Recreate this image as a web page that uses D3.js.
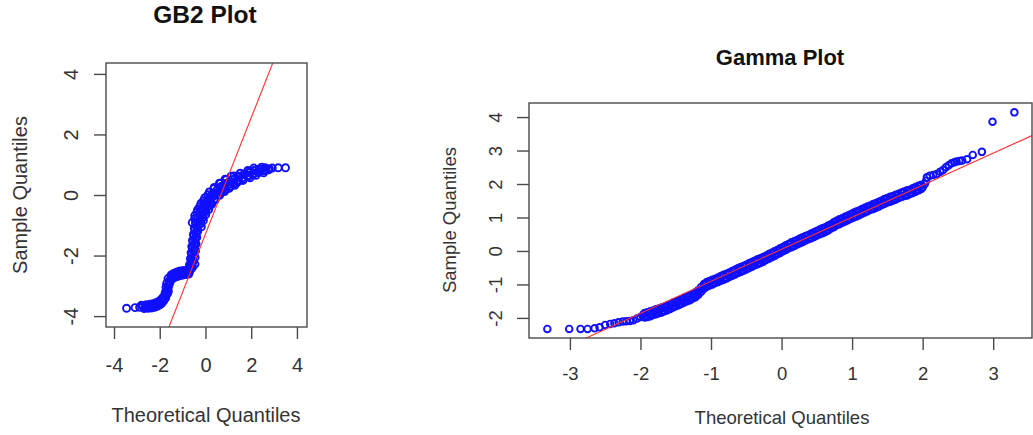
<!DOCTYPE html>
<html><head><meta charset="utf-8">
<script src="https://cdn.jsdelivr.net/npm/d3@7"></script>
<style>html,body{margin:0;padding:0;background:#fff;}svg{display:block;font-family:"Liberation Sans",Arial,sans-serif;}</style>
</head><body><svg id="c" width="1033" height="435"></svg>
<script>
const gb2Title = "GB2 Plot";
const gammaTitle = "Gamma Plot";
const xAxisTitle = "Theoretical Quantiles";
const yAxisTitle = "Sample Quantiles";

const gb2XTicks = [-4, -2, 0, 2, 4];
const gb2YTicks = [-4, -2, 0, 2, 4];
const gammaXTicks = [-3, -2, -1, 0, 1, 2, 3];
const gammaYTicks = [-2, -1, 0, 1, 2, 3, 4];

const gb2XLimits = [-4.35, 4.44];
const gb2YLimits = [-4.36, 4.36];
const gammaXLimits = [-3.58, 3.55];
const gammaYLimits = [-2.6, 4.42];

// reference lines: [intercept, slope]
const gb2RefLine = [-1.29, 1.92];
const gammaRefLine = [0.05, 0.957];

const gb2Theoretical = [-3.45,-3.08,-2.88,-2.74,-2.63,-2.54,-2.46,-2.39,-2.32,-2.26,
-2.20,-2.14,-2.08,-2.02,-1.97,-1.92,-1.88,-1.84,-1.80,-1.76,
-1.73,-1.69,-1.69,-1.64,-1.65,-1.58,-1.59,-1.53,-1.48,-1.42,
-1.36,-1.30,-1.24,-1.18,-1.12,-1.06,-1.00,-0.94,-0.88,-0.82,
-0.76,-0.70,-0.66,-0.61,-0.64,-0.57,-0.61,-0.54,-0.59,-0.52,
-0.57,-0.50,-0.54,-0.46,-0.50,-0.42,-0.46,-0.38,-0.41,-0.31,
-0.33,-0.23,-0.23,-0.13,-0.12,-0.03,0.00,0.08,0.11,0.20,
0.23,0.33,0.37,0.47,0.52,0.63,0.68,0.80,0.86,0.98,
1.05,1.18,1.25,1.39,1.47,1.61,1.70,1.85,1.94,2.09,
2.18,2.33,2.42,2.57,2.66,2.80,2.92,3.18,3.50,
-2.80,-2.68,-2.58,-2.50,-2.42,-2.35,-2.29,-2.23,-2.17,-2.11,-2.05,-1.99,-1.94,-1.90,-1.86,-1.82,-1.78,-1.74,
-1.76,-1.66,-1.73,-1.62,-1.70,-1.60,-1.64,-1.55,
-1.50,-1.45,-1.39,-1.33,-1.27,-1.21,-1.15,-1.09,-1.03,-0.97,-0.91,-0.85,-0.79,-0.73,-0.68,
-0.70,-0.56,-0.66,-0.53,-0.63,-0.50,-0.60,-0.47,-0.57,-0.44,-0.53,-0.40,-0.49,-0.35,-0.44,-0.29,
-0.37,-0.22,-0.28,-0.12,-0.17,0.00,-0.05,0.12,0.08,0.25,0.22,0.39,0.37,0.55,0.53,0.71,0.70,0.88,
0.88,1.06,1.06,1.24,1.26,1.44,1.47,1.65,1.68,1.88,1.90,2.10,2.12,2.32,2.36,2.55,2.60,2.76,
-0.46,-0.45,-0.43,-0.41,-0.38,-0.34,
-0.19,-0.47,-0.10,-0.38,0.02,-0.26,0.19,-0.09,0.39,0.11,0.61,0.37,0.85,0.65,
1.07,0.91,1.36,1.24,1.64,1.52,1.95,1.85,2.21,2.11,2.54,2.46,
-0.18,-0.58,-0.09,-0.47,0.01,-0.35,0.14,-0.20,0.27,-0.03,
0.43,0.17,0.62,0.38,0.83,0.61,1.04,0.86,1.28,1.12];
const gb2Sample = [-3.74,-3.72,-3.71,-3.68,-3.72,-3.66,-3.71,-3.65,-3.70,-3.63,
-3.68,-3.59,-3.64,-3.55,-3.59,-3.49,-3.52,-3.41,-3.44,-3.33,
-3.32,-3.22,-3.14,-3.08,-2.99,-2.93,-2.84,-2.78,-2.70,-2.70,
-2.63,-2.66,-2.58,-2.63,-2.56,-2.61,-2.54,-2.60,-2.53,-2.58,
-2.51,-2.55,-2.46,-2.42,-2.32,-2.24,-2.14,-2.04,-1.94,-1.84,
-1.74,-1.64,-1.54,-1.44,-1.34,-1.24,-1.14,-1.04,-0.96,-0.88,
-0.78,-0.72,-0.62,-0.56,-0.44,-0.41,-0.29,-0.28,-0.17,-0.16,
-0.06,-0.05,0.05,0.04,0.16,0.14,0.25,0.23,0.35,0.33,
0.43,0.41,0.51,0.49,0.59,0.57,0.67,0.65,0.74,0.72,
0.80,0.78,0.85,0.83,0.88,0.86,0.89,0.90,0.90,
-3.64,-3.75,-3.62,-3.74,-3.61,-3.73,-3.59,-3.71,-3.56,-3.68,-3.52,-3.63,-3.45,-3.57,-3.38,-3.49,-3.30,-3.40,
-3.22,-3.26,-3.05,-3.18,-2.92,-3.00,-2.76,-2.88,
-2.64,-2.77,-2.59,-2.72,-2.55,-2.69,-2.52,-2.66,-2.50,-2.64,-2.49,-2.63,-2.47,-2.61,-2.40,
-2.30,-2.38,-2.10,-2.18,-1.90,-1.98,-1.70,-1.78,-1.50,-1.58,-1.30,-1.38,-1.10,-1.18,-0.92,-1.00,
-0.78,-0.86,-0.60,-0.68,-0.44,-0.52,-0.30,-0.38,-0.17,-0.25,-0.04,-0.13,0.08,-0.01,0.19,0.09,0.29,0.19,
0.38,0.28,0.46,0.37,0.54,0.45,0.62,0.53,0.69,0.61,0.76,0.68,0.81,0.74,0.86,0.79,0.90,0.83,
-2.28,-2.06,-1.84,-1.62,-1.40,-1.20,
-0.94,-0.78,-0.74,-0.58,-0.55,-0.39,-0.35,-0.19,-0.15,0.01,0.01,0.21,0.15,0.39,
0.27,0.51,0.39,0.63,0.48,0.72,0.57,0.81,0.65,0.89,0.73,0.92,
-1.05,-0.91,-0.84,-0.68,-0.65,-0.49,-0.48,-0.28,-0.31,-0.09,
-0.16,0.10,-0.01,0.25,0.11,0.39,0.22,0.52,0.32,0.62];

const gammaTheoretical = [-3.32,-3.01,-2.85,-2.75,-2.65,-2.58,-2.50,-2.43,-2.37,-2.31,-2.25,-2.20,-2.15,-2.10,-2.05,-2.00,
-1.96,-1.92,-1.88,-1.84,-1.80,-1.76,-1.72,-1.68,-1.64,-1.60,
-1.56,-1.52,-1.48,-1.44,-1.40,-1.36,-1.32,-1.28,-1.24,-1.20,
-1.16,-1.12,-1.08,-1.04,-1.00,-0.96,-0.92,-0.88,-0.84,-0.80,
-0.76,-0.72,-0.68,-0.64,-0.60,-0.56,-0.52,-0.48,-0.44,-0.40,
-0.36,-0.32,-0.28,-0.24,-0.20,-0.16,-0.12,-0.08,-0.04,0.00,
0.04,0.08,0.12,0.16,0.20,0.24,0.28,0.32,0.36,0.40,
0.44,0.48,0.52,0.56,0.60,0.64,0.68,0.72,0.76,0.80,
0.84,0.88,0.92,0.96,1.00,1.04,1.08,1.12,1.16,1.20,
1.24,1.28,1.32,1.36,1.40,1.44,1.48,1.52,1.56,1.60,
1.64,1.68,1.72,1.76,1.80,1.84,1.88,1.92,1.96,2.00,
2.03,2.05,2.06,2.10,2.15,2.20,2.25,2.29,2.33,2.37,2.41,2.45,2.48,2.52,2.56,2.63,2.71,2.84,2.99,3.30,
-1.94,-1.90,-1.86,-1.82,-1.78,-1.74,-1.70,-1.66,-1.62,-1.58,
-1.54,-1.50,-1.46,-1.42,-1.38,-1.34,-1.30,-1.26,-1.22,-1.18,
-1.14,-1.10,-1.06,-1.02,-0.98,-0.94,-0.90,-0.86,-0.82,-0.78,
-0.74,-0.70,-0.66,-0.62,-0.58,-0.54,-0.50,-0.46,-0.42,-0.38,
-0.34,-0.30,-0.26,-0.22,-0.18,-0.14,-0.10,-0.06,-0.02,0.02,
0.06,0.10,0.14,0.18,0.22,0.26,0.30,0.34,0.38,0.42,
0.46,0.50,0.54,0.58,0.62,0.66,0.70,0.74,0.78,0.82,
0.86,0.90,0.94,0.98,1.02,1.06,1.10,1.14,1.18,1.22,
1.26,1.30,1.34,1.38,1.42,1.46,1.50,1.54,1.58,1.62,
1.66,1.70,1.74,1.78,1.82,1.86,1.90,1.94,1.98,
-1.94,-1.90,-1.86,-1.82,-1.78,-1.74,-1.70,-1.66,-1.62,-1.58,
-1.54,-1.50,-1.46,-1.42,-1.38,-1.34,-1.30,-1.26,-1.22,-1.18,
-1.14,-1.10,-1.06,-1.02,-0.98,-0.94,-0.90,-0.86,-0.82,-0.78,
-0.74,-0.70,-0.66,-0.62,-0.58,-0.54,-0.50,-0.46,-0.42,-0.38,
-0.34,-0.30,-0.26,-0.22,-0.18,-0.14,-0.10,-0.06,-0.02,0.02,
0.06,0.10,0.14,0.18,0.22,0.26,0.30,0.34,0.38,0.42,
0.46,0.50,0.54,0.58,0.62,0.66,0.70,0.74,0.78,0.82,
0.86,0.90,0.94,0.98,1.02,1.06,1.10,1.14,1.18,1.22,
1.26,1.30,1.34,1.38,1.42,1.46,1.50,1.54,1.58,1.62,
1.66,1.70,1.74,1.78,1.82,1.86,1.90,1.94,1.98];
const gammaSample = [-2.33,-2.33,-2.33,-2.33,-2.31,-2.28,-2.21,-2.18,-2.16,-2.13,-2.11,-2.10,-2.09,-2.07,-2.02,-1.97,
-1.90,-1.94,-1.86,-1.89,-1.80,-1.83,-1.75,-1.78,-1.69,-1.71,
-1.61,-1.63,-1.54,-1.56,-1.46,-1.48,-1.38,-1.41,-1.30,-1.31,
-1.17,-1.13,-0.99,-1.01,-0.92,-0.94,-0.85,-0.87,-0.77,-0.80,
-0.70,-0.72,-0.62,-0.64,-0.54,-0.57,-0.47,-0.49,-0.39,-0.41,
-0.31,-0.34,-0.24,-0.26,-0.15,-0.17,-0.07,-0.09,0.02,0.00,
0.11,0.09,0.20,0.17,0.27,0.25,0.35,0.33,0.43,0.40,
0.50,0.48,0.58,0.56,0.65,0.63,0.74,0.73,0.84,0.83,
0.92,0.90,1.00,0.98,1.08,1.06,1.15,1.13,1.23,1.21,
1.31,1.28,1.37,1.35,1.45,1.43,1.53,1.50,1.59,1.56,
1.66,1.63,1.73,1.69,1.78,1.75,1.85,1.83,1.93,1.90,
2.00,2.10,2.20,2.25,2.27,2.30,2.37,2.42,2.50,2.56,2.62,2.65,2.67,2.69,2.70,2.74,2.87,2.96,3.86,4.14,
-1.99,-1.83,-1.95,-1.78,-1.89,-1.72,-1.84,-1.67,-1.77,-1.59,
-1.69,-1.52,-1.62,-1.44,-1.54,-1.36,-1.47,-1.29,-1.38,-1.17,
-1.22,-0.99,-1.07,-0.90,-1.00,-0.83,-0.93,-0.75,-0.86,-0.68,
-0.78,-0.60,-0.70,-0.52,-0.63,-0.45,-0.55,-0.37,-0.47,-0.29,
-0.40,-0.22,-0.32,-0.14,-0.23,-0.05,-0.15,0.03,-0.06,0.12,
0.03,0.21,0.11,0.29,0.19,0.37,0.27,0.45,0.35,0.52,
0.42,0.60,0.50,0.68,0.57,0.76,0.67,0.86,0.77,0.95,
0.84,1.02,0.92,1.10,1.00,1.18,1.07,1.25,1.15,1.33,
1.23,1.40,1.29,1.47,1.37,1.55,1.45,1.62,1.51,1.68,
1.58,1.75,1.64,1.81,1.70,1.87,1.77,1.95,1.85,
-1.85,-1.97,-1.80,-1.91,-1.74,-1.86,-1.69,-1.80,-1.63,-1.73,
-1.55,-1.65,-1.48,-1.58,-1.40,-1.50,-1.32,-1.42,-1.23,-1.31,
-1.08,-1.13,-0.93,-1.03,-0.86,-0.96,-0.79,-0.89,-0.71,-0.82,
-0.64,-0.74,-0.56,-0.66,-0.48,-0.59,-0.41,-0.51,-0.33,-0.43,
-0.25,-0.36,-0.18,-0.27,-0.09,-0.19,-0.01,-0.10,0.08,-0.01,
0.17,0.08,0.26,0.15,0.33,0.23,0.41,0.31,0.48,0.38,
0.56,0.46,0.64,0.53,0.71,0.61,0.80,0.71,0.90,0.80,
0.98,0.88,1.06,0.96,1.14,1.03,1.21,1.11,1.29,1.19,
1.36,1.25,1.43,1.33,1.51,1.41,1.58,1.47,1.64,1.54,
1.71,1.61,1.78,1.66,1.83,1.73,1.91,1.81,1.98];

const svg = d3.select("#c");
svg.append("rect").attr("width",1033).attr("height",435).attr("fill","#fff");

function drawPanel(o) {
  const x = d3.scaleLinear().domain(o.xlim).range([o.left, o.right]);
  const y = d3.scaleLinear().domain(o.ylim).range([o.bottom, o.top]);
  const g = svg.append("g");
  const clipId = "clip-" + o.id;
  g.append("clipPath").attr("id", clipId).append("rect")
    .attr("x", o.left).attr("y", o.top)
    .attr("width", o.right - o.left).attr("height", o.bottom - o.top);

  const n = Math.min(o.xs.length, o.ys.length);
  const pts = d3.range(n).map(i => [o.xs[i], o.ys[i]]);
  g.append("g").selectAll("circle").data(pts).join("circle")
    .attr("cx", d => x(d[0])).attr("cy", d => y(d[1]))
    .attr("r", o.r).attr("fill", "none")
    .attr("stroke", "#1010ff").attr("stroke-width", 1.9);

  const [a, b] = o.line;
  g.append("line").attr("clip-path", `url(#${clipId})`)
    .attr("x1", x(o.xlim[0])).attr("y1", y(a + b * o.xlim[0]))
    .attr("x2", x(o.xlim[1])).attr("y2", y(a + b * o.xlim[1]))
    .attr("stroke", "#ff3030").attr("stroke-width", 1.1);

  g.append("rect").attr("x", o.left).attr("y", o.top)
    .attr("width", o.right - o.left).attr("height", o.bottom - o.top)
    .attr("fill", "none").attr("stroke", "#4a4a4a").attr("stroke-width", 1.4);

  const fmt = d => d < 0 ? "-" + Math.abs(d) : String(d);
  const xa = g.append("g").attr("transform", `translate(0,${o.bottom})`)
    .call(d3.axisBottom(x).tickValues(o.xticks).tickSize(12).tickSizeOuter(0));
  xa.select(".domain").remove();
  xa.selectAll(".tick line").attr("stroke", "#4a4a4a").attr("stroke-width", 1.4);
  xa.selectAll(".tick text").attr("y", o.xLabOff).attr("dy", null)
    .attr("font-size", o.fs).attr("fill", "#333").attr("font-family", "Liberation Sans, Arial, sans-serif")
    .text(fmt);

  const ya = g.append("g").attr("transform", `translate(${o.left},0)`)
    .call(d3.axisLeft(y).tickValues(o.yticks).tickSize(12).tickSizeOuter(0));
  ya.select(".domain").remove();
  ya.selectAll(".tick line").attr("stroke", "#4a4a4a").attr("stroke-width", 1.4);
  ya.selectAll(".tick text").attr("x", null).attr("y", 0).attr("dy", null)
    .attr("text-anchor", "middle")
    .attr("transform", `translate(${-o.yLabOff},0) rotate(-90)`)
    .attr("font-size", o.fs).attr("fill", "#333").attr("font-family", "Liberation Sans, Arial, sans-serif")
    .text(fmt);

  svg.append("text").attr("x", o.xTitleX).attr("y", o.bottom + o.xTitleOff)
    .attr("text-anchor", "middle").attr("font-size", o.fs).attr("fill", "#333")
    .text(xAxisTitle);
  svg.append("text")
    .attr("transform", `translate(${o.left - o.yTitleOff},${o.yTitleY}) rotate(-90)`)
    .attr("text-anchor", "middle").attr("font-size", o.fs).attr("fill", "#333")
    .text(yAxisTitle);
  svg.append("text").attr("x", o.titleX).attr("y", o.titleY)
    .attr("text-anchor", "middle").attr("font-size", o.tfs).attr("font-weight", "bold")
    .attr("fill", "#111").text(o.title);
}

drawPanel({
  id: "gb2", title: gb2Title, xs: gb2Theoretical, ys: gb2Sample, line: gb2RefLine,
  xlim: gb2XLimits, ylim: gb2YLimits, xticks: gb2XTicks, yticks: gb2YTicks,
  left: 106, right: 307, top: 63, bottom: 327, r: 3.5,
  fs: 20, tfs: 24.5, xLabOff: 45, yLabOff: 28, xTitleOff: 95, yTitleOff: 79,
  xTitleX: 206, yTitleY: 195, titleX: 205, titleY: 23
});
drawPanel({
  id: "gamma", title: gammaTitle, xs: gammaTheoretical, ys: gammaSample, line: gammaRefLine,
  xlim: gammaXLimits, ylim: gammaYLimits, xticks: gammaXTicks, yticks: gammaYTicks,
  left: 529, right: 1032, top: 103, bottom: 338, r: 3.3,
  fs: 18.5, tfs: 22, xLabOff: 42, yLabOff: 27, xTitleOff: 86, yTitleOff: 73,
  xTitleX: 782, yTitleY: 220, titleX: 780, titleY: 65
});
</script></body></html>
